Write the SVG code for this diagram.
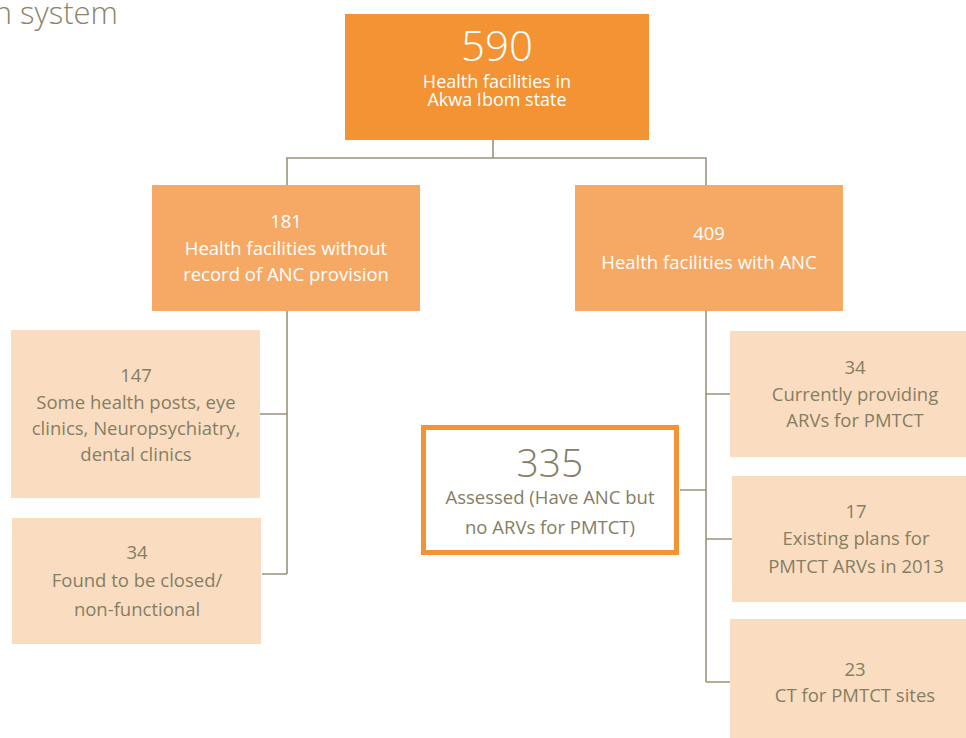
<svg xmlns="http://www.w3.org/2000/svg" width="966" height="738" viewBox="0 0 966 738">
<style>
text{font-family:"Open Sans","Noto Sans","Liberation Sans",sans-serif;text-anchor:middle}
.dark{fill:#F39333}
.mid{fill:#F6A964}
.light{fill:#FADDC1}
.w{fill:#FFFFFF;font-size:18.5px}
.t{fill:#857E63;font-size:18.5px}
.big{font-size:42px;font-weight:300}
.conn{stroke:#9B9479;stroke-width:1.6;fill:none}
</style>
<rect width="966" height="738" fill="#FFFFFF"/>
<text x="118" y="24" style="text-anchor:end;font-size:31px;font-weight:300;fill:#8B8468">n system</text>
<g id="connectors">
<path class="conn" d="M493,140 V158 M287,185 V158 H706 V185"/>
<path class="conn" d="M287,311 V574 M260,414 H287 M262,574 H287"/>
<path class="conn" d="M706,311 V682 M706,394 H730 M680,490 H706 M706,539 H732 M706,682 H730"/>
</g>
<g id="n590">
<rect class="dark" x="345" y="14" width="304" height="126"/>
<text class="w big" x="497" y="61">590</text>
<text class="w" x="497" y="88" style="font-size:18px">Health facilities in</text>
<text class="w" x="497" y="106" style="font-size:18px">Akwa Ibom state</text>
</g>
<g id="n181">
<rect class="mid" x="152" y="185" width="268" height="126"/>
<text class="w" x="286" y="228">181</text>
<text class="w" x="286" y="255">Health facilities without</text>
<text class="w" x="286" y="281">record of ANC provision</text>
</g>
<g id="n409">
<rect class="mid" x="575" y="185" width="268" height="126"/>
<text class="w" x="709" y="240">409</text>
<text class="w" x="709" y="269">Health facilities with ANC</text>
</g>
<g id="n147">
<rect class="light" x="11" y="330" width="249" height="168"/>
<text class="t" x="136" y="382">147</text>
<text class="t" x="136" y="409">Some health posts, eye</text>
<text class="t" x="136" y="435">clinics, Neuropsychiatry,</text>
<text class="t" x="136" y="461">dental clinics</text>
</g>
<g id="n34closed">
<rect class="light" x="12" y="518" width="249" height="126"/>
<text class="t" x="137" y="559">34</text>
<text class="t" x="137" y="587">Found to be closed/</text>
<text class="t" x="137" y="616">non-functional</text>
</g>
<g id="n335">
<rect x="423.5" y="427.5" width="253" height="125" fill="#FFFFFF" stroke="#F39333" stroke-width="5"/>
<text class="t big" x="550" y="477" style="font-size:39px">335</text>
<text class="t" x="550" y="504">Assessed (Have ANC but</text>
<text class="t" x="550" y="534">no ARVs for PMTCT)</text>
</g>
<g id="n34arv">
<rect class="light" x="730" y="331" width="236" height="126"/>
<text class="t" x="855" y="374">34</text>
<text class="t" x="855" y="401">Currently providing</text>
<text class="t" x="855" y="427">ARVs for PMTCT</text>
</g>
<g id="n17">
<rect class="light" x="732" y="476" width="234" height="126"/>
<text class="t" x="856" y="518">17</text>
<text class="t" x="856" y="545">Existing plans for</text>
<text class="t" x="856" y="573">PMTCT ARVs in 2013</text>
</g>
<g id="n23">
<rect class="light" x="730" y="619" width="236" height="119"/>
<text class="t" x="855" y="676">23</text>
<text class="t" x="855" y="702">CT for PMTCT sites</text>
</g>
</svg>
